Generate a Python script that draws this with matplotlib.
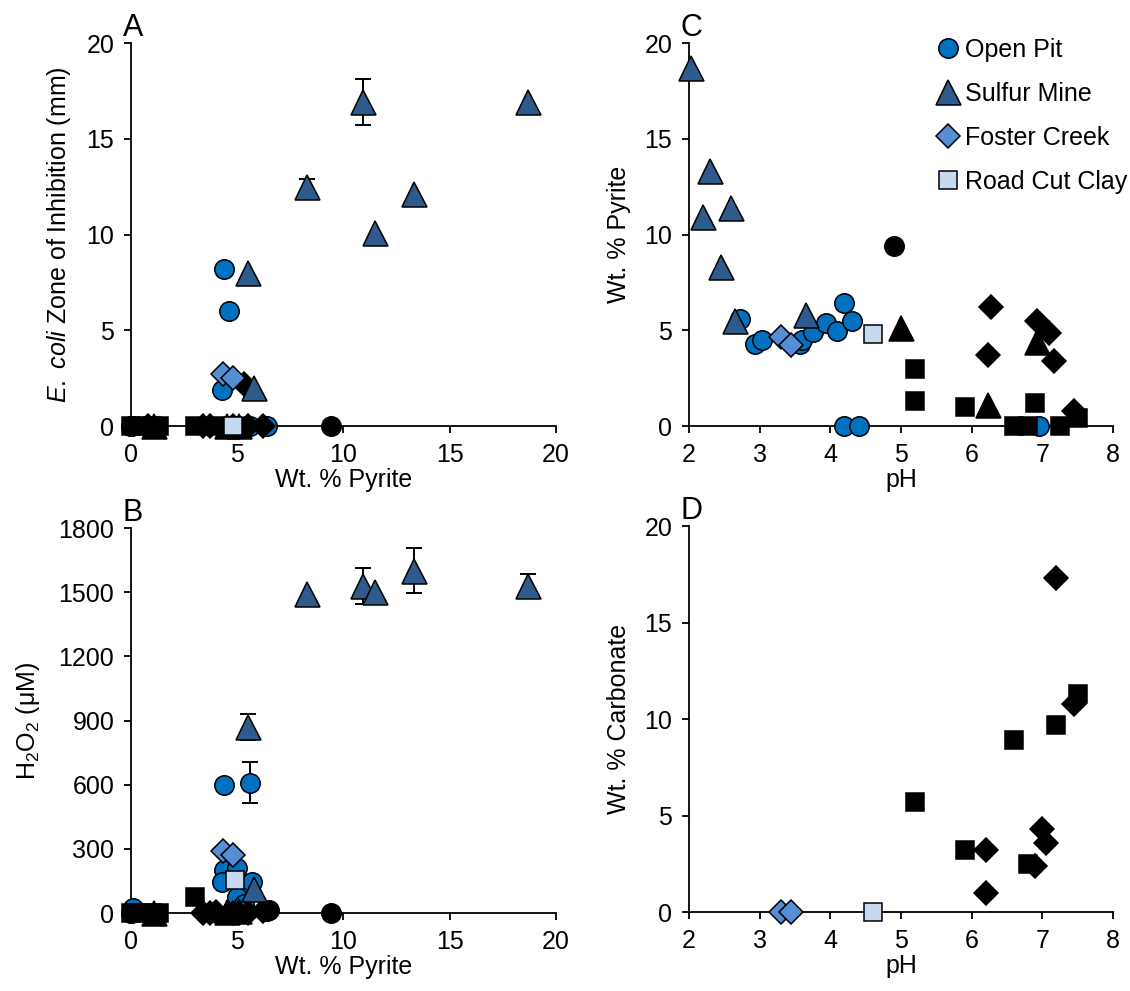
import numpy as np
import matplotlib
matplotlib.use('Agg')
import matplotlib.pyplot as plt
from matplotlib.lines import Line2D

plt.rcParams['font.family'] = ['Liberation Sans', 'DejaVu Sans']
plt.rcParams['mathtext.fontset'] = 'custom'
plt.rcParams['mathtext.rm'] = 'Liberation Sans'
plt.rcParams['mathtext.it'] = 'Liberation Sans:italic'

# colours of the four named sites
c_pit = '#0070C0'
c_sulfur = '#2F5A8C'
c_foster = '#558ED5'
c_road = '#C6D9F1'

# ---------- panel A: zone of inhibition vs wt % pyrite ----------
a_pit_x = [4.4, 4.6, 4.3, 5.0, 5.4, 5.6, 6.4, 0, 0]
a_pit_y = [8.2, 6.0, 1.9, 0, 0, 0, 0, 0, 0]
a_sulf_x = [18.7, 10.9, 13.3, 8.3, 11.5, 5.5, 5.8]
a_sulf_y = [16.9, 16.9, 12.1, 12.5, 10.1, 8.0, 2.0]
a_sulf_err = [0, 1.2, 0, 0.4, 0, 0, 0]
a_fost_x = [4.35, 4.8]
a_fost_y = [2.7, 2.5]
a_road_x = [4.8]
a_road_y = [0]
a_blk_circ_x = [0, 9.4]
a_blk_circ_y = [0, 0]
a_blk_tri_x = [1.1, 4.5, 5.1]
a_blk_tri_y = [0, 0, 0]
a_blk_sq_x = [0, 0.4, 1.0, 1.3, 3.0, 4.3]
a_blk_sq_y = [0, 0, 0, 0, 0, 0]
a_blk_dia_x = [0.8, 3.4, 3.7, 4.8, 5.5, 6.2, 5.3]
a_blk_dia_y = [0, 0, 0, 0, 0, 0, 2.2]

# ---------- panel B: H2O2 vs wt % pyrite ----------
b_pit_x = [4.4, 5.6, 4.4, 5.0, 4.3, 5.7, 5.0, 5.3, 0.1, 6.4, 0]
b_pit_y = [600, 610, 200, 210, 145, 145, 75, 40, 25, 10, 0]
b_pit_err = [0, 95, 0, 0, 0, 0, 0, 0, 0, 0, 0]
b_sulf_x = [8.3, 10.9, 11.5, 13.3, 18.7, 5.5, 5.8]
b_sulf_y = [1490, 1530, 1500, 1600, 1530, 870, 110]
b_sulf_err = [0, 85, 0, 105, 55, 60, 0]
b_fost_x = [4.35, 4.8]
b_fost_y = [290, 270]
b_road_x = [4.9]
b_road_y = [155]
b_blk_circ_x = [0, 9.4, 6.5]
b_blk_circ_y = [0, 0, 15]
b_blk_tri_x = [1.1, 4.5, 5.1]
b_blk_tri_y = [0, 5, 10]
b_blk_sq_x = [0, 0.4, 1.0, 1.3, 3.0]
b_blk_sq_y = [0, 0, 0, 0, 75]
b_blk_dia_x = [3.4, 3.7, 4.8, 5.5, 6.2, 4.0]
b_blk_dia_y = [0, 0, 0, 0, 10, 5]

# ---------- panel C: wt % pyrite vs pH ----------
c_pit_x = [2.72, 2.94, 3.03, 3.57, 3.6, 3.76, 3.94, 4.1, 4.2, 4.31, 4.2, 4.4, 6.96]
c_pit_y = [5.6, 4.3, 4.5, 4.3, 4.5, 4.9, 5.4, 4.95, 6.4, 5.5, 0, 0, 0]
c_sulf_x = [2.03, 2.2, 2.3, 2.45, 2.6, 2.65, 3.65]
c_sulf_y = [18.7, 10.9, 13.3, 8.3, 11.4, 5.5, 5.8]
c_fost_x = [3.3, 3.45]
c_fost_y = [4.65, 4.25]
c_road_x = [4.6]
c_road_y = [4.8]
c_blk_circ_x = [4.9]
c_blk_circ_y = [9.4]
c_blk_tri_x = [5.0, 6.23, 6.92]
c_blk_tri_y = [5.1, 1.1, 4.4]
c_blk_sq_x = [5.2, 5.2, 5.9, 6.6, 6.8, 6.9, 7.25, 7.5]
c_blk_sq_y = [3.0, 1.3, 1.0, 0, 0, 1.2, 0, 0.4]
c_blk_dia_x = [6.28, 6.23, 6.92, 7.1, 7.17, 7.45]
c_blk_dia_y = [6.2, 3.7, 5.5, 4.85, 3.4, 0.8]

# ---------- panel D: wt % carbonate vs pH ----------
d_fost_x = [3.3, 3.45]
d_fost_y = [0, 0]
d_road_x = [4.6]
d_road_y = [0]
d_blk_sq_x = [5.2, 5.9, 6.6, 6.8, 7.2, 7.5]
d_blk_sq_y = [5.7, 3.2, 8.9, 2.5, 9.7, 11.3]
d_blk_dia_x = [6.2, 6.2, 6.9, 7.0, 7.05, 7.2, 7.45]
d_blk_dia_y = [3.2, 1.0, 2.4, 4.3, 3.6, 17.3, 10.8]

ms = {'o': 14, '^': 18, 'D': 12.5, 's': 13}
FS = 18


def pts(ax, x, y, m, col, z=3):
    ax.plot(x, y, linestyle='none', marker=m, markersize=ms[m], markerfacecolor=col,
            markeredgecolor='black', markeredgewidth=1.1, clip_on=False, zorder=z)


def errs(ax, x, y, e):
    x = np.array(x); y = np.array(y); e = np.array(e)
    k = e > 0
    ax.errorbar(x[k], y[k], yerr=e[k], fmt='none', ecolor='black', elinewidth=1.4,
                capsize=6, capthick=1.4, clip_on=False, zorder=2)


def style(ax, letter, xlim, ylim, xt, yt):
    ax.set_xlim(*xlim)
    ax.set_ylim(*ylim)
    ax.set_xticks(xt)
    ax.set_yticks(yt)
    for s in ['top', 'right']:
        ax.spines[s].set_visible(False)
    for s in ['left', 'bottom']:
        ax.spines[s].set_linewidth(1.3)
    ax.tick_params(direction='out', length=5, width=1.3, labelsize=FS, pad=7)
    ax.annotate(letter, xy=(0, 1), xycoords='axes fraction', xytext=(-6, 0),
                textcoords='offset points', ha='left', va='bottom', fontsize=22)


fig = plt.figure(figsize=(11.3, 9.91), dpi=100)
axA = fig.add_axes([0.1159, 0.5701, 0.3761, 0.3865])
axB = fig.add_axes([0.1159, 0.0787, 0.3761, 0.3885])
axC = fig.add_axes([0.6097, 0.5701, 0.3752, 0.3865])
axD = fig.add_axes([0.6097, 0.0797, 0.3752, 0.3895])

# panel A
errs(axA, a_sulf_x, a_sulf_y, a_sulf_err)
pts(axA, a_pit_x, a_pit_y, 'o', c_pit)
pts(axA, a_blk_circ_x, a_blk_circ_y, 'o', 'black', 4)
pts(axA, a_blk_tri_x, a_blk_tri_y, '^', 'black', 4)
pts(axA, a_blk_sq_x, a_blk_sq_y, 's', 'black', 4)
pts(axA, a_blk_dia_x, a_blk_dia_y, 'D', 'black', 4)
pts(axA, a_sulf_x, a_sulf_y, '^', c_sulfur, 5)
pts(axA, a_fost_x, a_fost_y, 'D', c_foster, 5)
pts(axA, a_road_x, a_road_y, 's', c_road, 6)
style(axA, 'A', (0, 20), (0, 20), range(0, 21, 5), range(0, 21, 5))
axA.set_xlabel('Wt. % Pyrite', fontsize=FS, labelpad=1)
axA.set_ylabel(r'$\it{E.\ coli}$ Zone of Inhibition (mm)', fontsize=FS, labelpad=10)

# panel B
errs(axB, b_pit_x, b_pit_y, b_pit_err)
errs(axB, b_sulf_x, b_sulf_y, b_sulf_err)
pts(axB, b_pit_x, b_pit_y, 'o', c_pit)
pts(axB, b_blk_circ_x, b_blk_circ_y, 'o', 'black', 4)
pts(axB, b_blk_tri_x, b_blk_tri_y, '^', 'black', 4)
pts(axB, b_blk_sq_x, b_blk_sq_y, 's', 'black', 4)
pts(axB, b_blk_dia_x, b_blk_dia_y, 'D', 'black', 4)
pts(axB, b_sulf_x, b_sulf_y, '^', c_sulfur, 5)
pts(axB, b_fost_x, b_fost_y, 'D', c_foster, 5)
pts(axB, b_road_x, b_road_y, 's', c_road, 6)
style(axB, 'B', (0, 20), (0, 1800), range(0, 21, 5), range(0, 1801, 300))
axB.set_xlabel('Wt. % Pyrite', fontsize=FS, labelpad=1)
axB.set_ylabel(r'H$_2$O$_2$ ($\mathrm{\mu}$M)', fontsize=FS, labelpad=12)

# panel C
pts(axC, c_pit_x, c_pit_y, 'o', c_pit)
pts(axC, c_sulf_x, c_sulf_y, '^', c_sulfur)
pts(axC, c_fost_x, c_fost_y, 'D', c_foster)
pts(axC, c_road_x, c_road_y, 's', c_road)
pts(axC, c_blk_circ_x, c_blk_circ_y, 'o', 'black', 4)
pts(axC, c_blk_tri_x, c_blk_tri_y, '^', 'black', 4)
pts(axC, c_blk_sq_x, c_blk_sq_y, 's', 'black', 4)
pts(axC, c_blk_dia_x, c_blk_dia_y, 'D', 'black', 4)
style(axC, 'C', (2, 8), (0, 20), range(2, 9), range(0, 21, 5))
axC.set_xlabel('pH', fontsize=FS, labelpad=1)
axC.set_ylabel('Wt. % Pyrite', fontsize=FS, labelpad=10)

handles = [Line2D([], [], linestyle='none', marker=m, markersize=ms[m], markerfacecolor=c,
                  markeredgecolor='black', markeredgewidth=1.1)
           for m, c in [('o', c_pit), ('^', c_sulfur), ('D', c_foster), ('s', c_road)]]
axC.legend(handles, ['Open Pit', 'Sulfur Mine', 'Foster Creek', 'Road Cut Clay'],
           loc='upper left', bbox_to_anchor=(0.54, 1.06), frameon=False, fontsize=FS,
           handlelength=1.0, handletextpad=0.2, labelspacing=0.8, borderpad=0.2)

# panel D
pts(axD, d_fost_x, d_fost_y, 'D', c_foster)
pts(axD, d_road_x, d_road_y, 's', c_road)
pts(axD, d_blk_sq_x, d_blk_sq_y, 's', 'black', 4)
pts(axD, d_blk_dia_x, d_blk_dia_y, 'D', 'black', 4)
style(axD, 'D', (2, 8), (0, 20), range(2, 9), range(0, 21, 5))
axD.set_xlabel('pH', fontsize=FS, labelpad=1)
axD.set_ylabel('Wt. % Carbonate', fontsize=FS, labelpad=10)

fig.savefig('out.png', dpi=100)
